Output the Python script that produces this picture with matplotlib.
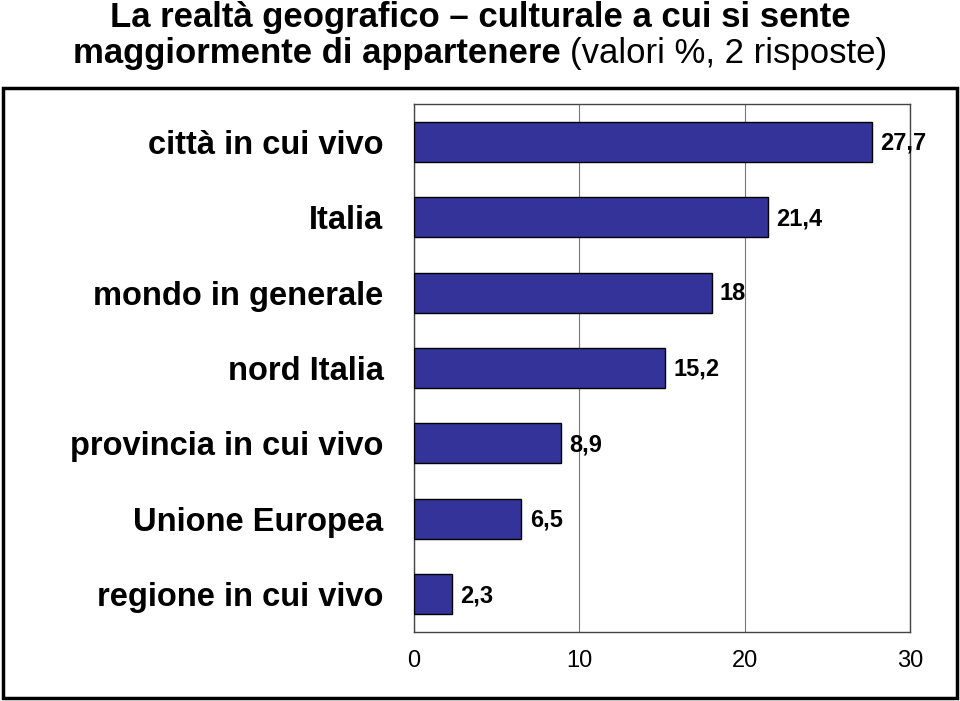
import matplotlib
matplotlib.use("Agg")
import matplotlib.pyplot as plt
from matplotlib.patches import Rectangle

categories = ["città in cui vivo", "Italia", "mondo in generale", "nord Italia",
              "provincia in cui vivo", "Unione Europea", "regione in cui vivo"]
values = [27.7, 21.4, 18, 15.2, 8.9, 6.5, 2.3]
value_labels = ["27,7", "21,4", "18", "15,2", "8,9", "6,5", "2,3"]
xticks = [0, 10, 20, 30]

plt.rcParams['font.family'] = ['Liberation Sans', 'DejaVu Sans']

fig = plt.figure(figsize=(9.6, 7.01), dpi=100)
ax = fig.add_axes([414/960, 1-632/701, (910-414)/960, (632-104)/701])

ypos = list(range(len(categories)))
ax.barh(ypos, values, height=0.53, color="#333399", edgecolor="black", linewidth=1, zorder=3)
ax.set_ylim(len(categories)-0.5, -0.5)
ax.set_xlim(0, 30)
ax.set_xticks(xticks)
ax.set_xticklabels([str(t) for t in xticks], fontsize=17)
ax.set_yticks(ypos)
ax.set_yticklabels(categories, fontsize=23.5, fontweight="bold")
ax.tick_params(axis="y", length=0, pad=22)
ax.tick_params(axis="x", length=0, pad=13)
ax.grid(axis="x", color="#777777", linewidth=0.8, zorder=0)
for s in ax.spines.values():
    s.set_color("#444444")
    s.set_linewidth(1)

for y, v, lab in zip(ypos, values, value_labels):
    ax.annotate(lab, (v, y), xytext=(6, -1), textcoords="offset points",
                va="center", ha="left", fontsize=17, fontweight="bold", zorder=4)

fig.patches.append(Rectangle((3/960, 1-698/701), 954/960, (698-88)/701,
                             transform=fig.transFigure, fill=False,
                             edgecolor="black", linewidth=2.5))

fig.text(0.5, 1-17/701, "La realtà geografico – culturale a cui si sente",
         ha="center", va="center", fontsize=25, fontweight="bold")
t1 = fig.text(0.5, 1-53/701, "maggiormente di appartenere ", ha="right", va="center",
              fontsize=25, fontweight="bold")
t2 = fig.text(0.5, 1-53/701, "(valori %, 2 risposte)", ha="left", va="center",
              fontsize=25)
fig.canvas.draw()
r = fig.canvas.get_renderer()
w1 = t1.get_window_extent(r).width
w2 = t2.get_window_extent(r).width
left = (960 - (w1 + w2)) / 2
t1.set_x((left + w1) / 960)
t2.set_x((left + w1) / 960)

fig.savefig("out.png", dpi=100)
